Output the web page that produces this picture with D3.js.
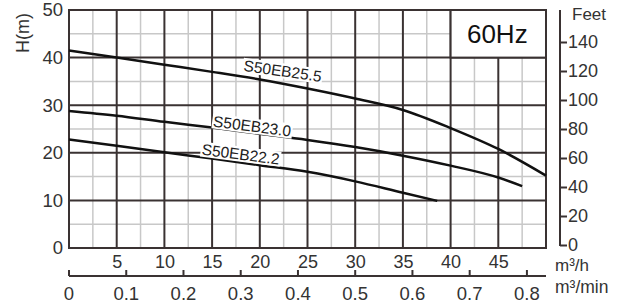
<!DOCTYPE html>
<html>
<head>
<meta charset="utf-8">
<script src="https://cdn.jsdelivr.net/npm/d3@7"></script>
<style>
  body { margin: 0; background: #fff; }
  text { font-family: "Liberation Sans", Arial, sans-serif; fill: #333; }
</style>
</head>
<body>
<div id="chart"></div>
<script>
// flow Q in m3/h, head H in m
var flow255 = [0, 5, 10, 15, 20, 25, 30, 35, 40, 45, 50];
var head255 = [41.5, 40.0, 38.5, 37.0, 35.4, 33.5, 31.4, 29.0, 25.2, 20.8, 15.2];

var flow230 = [0, 5, 10, 15, 20, 25, 30, 35, 40, 45, 47.5];
var head230 = [28.8, 27.8, 26.5, 25.3, 24.0, 22.7, 21.2, 19.4, 17.3, 14.8, 13.0];

var flow222 = [0, 5, 10, 15, 20, 25, 30, 35, 38.6];
var head222 = [22.8, 21.5, 20.1, 18.8, 17.4, 16.0, 14.0, 11.6, 9.9];

var curveNames = ["S50EB25.5", "S50EB23.0", "S50EB22.2"];
// label anchor in data units (Q, H) and slope angle
var labelQ = [22.4, 19.2, 18.0];
var labelH = [37.2, 25.6, 19.7];
var labelAngle = [8.3, 7.4, 7.4];

var xTicks = [5, 10, 15, 20, 25, 30, 35, 40, 45];
var yTicks = [0, 10, 20, 30, 40, 50];
var feetTicks = [0, 20, 40, 60, 80, 100, 120, 140];
var minTicks = [0, 0.1, 0.2, 0.3, 0.4, 0.5, 0.6, 0.7, 0.8];

var svgWidth = 622;
var svgHeight = 306;

var margin = { top: 10, right: 76, bottom: 58, left: 69 };
var width = svgWidth - margin.left - margin.right;
var height = svgHeight - margin.top - margin.bottom;

var dark = "#3a3232";
var light = "#c8c8c8";

var svg = d3.select("#chart")
  .append("svg")
  .attr("width", svgWidth)
  .attr("height", svgHeight);

var g = svg.append("g")
  .attr("transform", `translate(${margin.left}, ${margin.top})`);

var x = d3.scaleLinear().domain([0, 50]).range([0, width]);
var y = d3.scaleLinear().domain([0, 50]).range([height, 0]);
var yFeet = d3.scaleLinear().domain([0, 140]).range([height - 3, 32]);

// minor grid
g.append("g").selectAll("line")
  .data(d3.range(2.5, 50, 5))
  .enter().append("line")
  .attr("x1", d => x(d)).attr("x2", d => x(d))
  .attr("y1", 0).attr("y2", height)
  .attr("stroke", light).attr("stroke-width", 1.5);

g.append("g").selectAll("line")
  .data(d3.range(5, 50, 10))
  .enter().append("line")
  .attr("y1", d => y(d)).attr("y2", d => y(d))
  .attr("x1", 0).attr("x2", width)
  .attr("stroke", light).attr("stroke-width", 1.5);

// major grid
g.append("g").selectAll("line")
  .data(d3.range(5, 50, 5))
  .enter().append("line")
  .attr("x1", d => x(d)).attr("x2", d => x(d))
  .attr("y1", 0).attr("y2", height)
  .attr("stroke", dark).attr("stroke-width", 2);

g.append("g").selectAll("line")
  .data(d3.range(10, 50, 10))
  .enter().append("line")
  .attr("y1", d => y(d)).attr("y2", d => y(d))
  .attr("x1", 0).attr("x2", width)
  .attr("stroke", dark).attr("stroke-width", 2);

// frame
g.append("rect")
  .attr("x", 0).attr("y", 0)
  .attr("width", width).attr("height", height)
  .attr("fill", "none")
  .attr("stroke", dark).attr("stroke-width", 2);

// 60Hz box
g.append("rect")
  .attr("x", x(40)).attr("y", y(50))
  .attr("width", x(50) - x(40)).attr("height", y(40) - y(50))
  .attr("fill", "#fff")
  .attr("stroke", dark).attr("stroke-width", 2);

g.append("text")
  .attr("x", (x(40) + x(50)) / 2 - 1)
  .attr("y", (y(40) + y(50)) / 2)
  .attr("dy", "0.36em")
  .attr("text-anchor", "middle")
  .attr("font-size", "26px")
  .style("fill", "#111")
  .text("60Hz");

// curves
var line = d3.line()
  .x(d => x(d[0]))
  .y(d => y(d[1]))
  .curve(d3.curveMonotoneX);

var series = [
  d3.zip(flow255, head255),
  d3.zip(flow230, head230),
  d3.zip(flow222, head222)
];

g.append("g").selectAll("path")
  .data(series)
  .enter().append("path")
  .attr("d", line)
  .attr("fill", "none")
  .attr("stroke", "#111")
  .attr("stroke-width", 2.5);

// curve labels with white backing
curveNames.forEach(function (name, i) {
  var lg = g.append("g")
    .attr("transform", `translate(${x(labelQ[i])}, ${y(labelH[i])}) rotate(${labelAngle[i]})`);
  var bg = lg.append("rect").attr("fill", "#fff");
  var t = lg.append("text")
    .attr("text-anchor", "middle")
    .attr("dy", "0.35em")
    .attr("font-size", "15.5px")
    .style("fill", "#222")
    .text(name);
  var bb = t.node().getBBox();
  bg.attr("x", bb.x - 1).attr("y", bb.y + 1)
    .attr("width", bb.width + 2).attr("height", bb.height - 2);
});

// left axis H(m)
var yAxis = d3.axisLeft(y).tickValues(yTicks).tickSize(0).tickPadding(6);
g.append("g")
  .call(yAxis)
  .call(s => s.select(".domain").remove())
  .selectAll("text")
  .attr("font-size", "18.5px")
  .style("fill", "#333");

svg.append("text")
  .attr("transform", `translate(23, 33) rotate(-90)`)
  .attr("text-anchor", "middle")
  .attr("dominant-baseline", "central")
  .attr("font-size", "18px")
  .text("H(m)");

// bottom m3/h labels
var xAxis = d3.axisBottom(x).tickValues(xTicks).tickSize(0).tickPadding(7);
g.append("g")
  .attr("transform", `translate(0, ${height})`)
  .call(xAxis)
  .call(s => s.select(".domain").remove())
  .selectAll("text")
  .attr("font-size", "18px")
  .style("fill", "#333");

g.append("text")
  .attr("x", width + 9)
  .attr("y", height + 23)
  .attr("font-size", "17px")
  .text("m³/h");

// m3/min axis
var minY = height + 28;
g.append("line")
  .attr("x1", 0).attr("x2", width)
  .attr("y1", minY).attr("y2", minY)
  .attr("stroke", dark).attr("stroke-width", 2);

g.append("g").selectAll("line")
  .data(minTicks)
  .enter().append("line")
  .attr("x1", d => x(d * 60)).attr("x2", d => x(d * 60))
  .attr("y1", minY).attr("y2", minY - 6)
  .attr("stroke", dark).attr("stroke-width", 2);

g.append("g").selectAll("text")
  .data(minTicks)
  .enter().append("text")
  .attr("x", d => x(d * 60))
  .attr("y", minY + 24)
  .attr("text-anchor", "middle")
  .attr("font-size", "18.5px")
  .text(d => d === 0 ? "0" : d3.format(".1f")(d));

g.append("text")
  .attr("x", width + 9)
  .attr("y", minY + 17)
  .attr("font-size", "17.5px")
  .text("m³/min");

// right Feet axis
var feetX = width + 14;
var feetAxis = d3.axisRight(yFeet).tickValues(feetTicks).tickSize(7).tickPadding(1);
var fg = g.append("g")
  .attr("transform", `translate(${feetX}, 0)`)
  .call(feetAxis);
fg.select(".domain").remove();
fg.selectAll(".tick line").attr("stroke", dark).attr("stroke-width", 2);
fg.selectAll("text")
  .attr("font-size", "18px")
  .style("fill", "#333");

g.append("line")
  .attr("x1", feetX).attr("x2", feetX)
  .attr("y1", 0).attr("y2", yFeet(0) + 1)
  .attr("stroke", dark).attr("stroke-width", 2);

g.append("text")
  .attr("x", feetX + 12)
  .attr("y", 10)
  .attr("font-size", "17px")
  .text("Feet");
</script>
</body>
</html>
